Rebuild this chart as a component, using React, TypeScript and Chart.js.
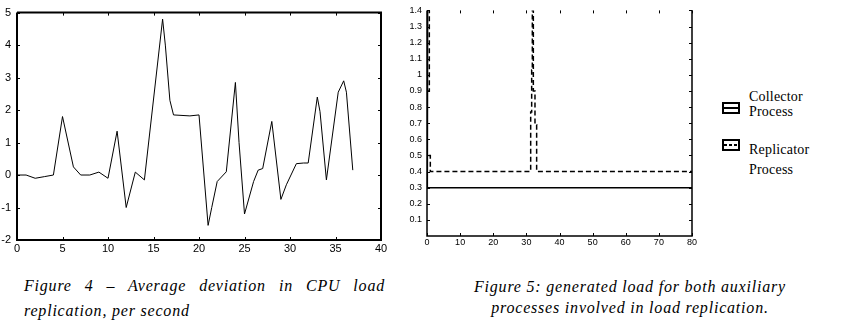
import React, { useEffect, useRef } from 'react';
import { Chart, registerables } from 'chart.js';
Chart.register(...registerables);

// ---------- Figure 4 data ----------
const fig4Seconds = [0, 1, 2, 3, 4, 5, 6.2, 7, 8, 9, 10, 11, 12, 13, 14, 16, 16.3, 16.8, 17.2, 19, 20, 21, 21.4, 22, 23, 24, 24.4, 25, 26, 26.5, 27, 28, 29, 29.6, 30.7, 31.5, 32, 33, 33.3, 34, 35.3, 35.9, 36.2, 36.9];
const fig4Deviation = [0, 0, -0.1, -0.05, 0, 1.8, 0.25, 0, 0, 0.09, -0.1, 1.35, -1.0, 0.09, -0.15, 4.8, 4.0, 2.3, 1.85, 1.82, 1.85, -1.55, -1.0, -0.2, 0.1, 2.85, 1.0, -1.2, -0.2, 0.15, 0.2, 1.65, -0.75, -0.3, 0.35, 0.37, 0.37, 2.4, 1.95, -0.15, 2.55, 2.9, 2.55, 0.15];
const fig4XTicks = [0, 5, 10, 15, 20, 25, 30, 35, 40];
const fig4YTicks = [-2, -1, 0, 1, 2, 3, 4, 5];

// ---------- Figure 5 data ----------
const collectorX = [0.2, 0.2, 0, 80];
const collectorY = [1.5, 1.28, 0.3, 0.3];
const replicatorX = [0, 0.7, 0.7, 0, 0, 1.0, 1.0, 31.3, 31.3, 31.6, 31.6, 31.8, 31.8, 32.1, 32.1, 32.6, 32.6, 33.1, 33.1, 80];
const replicatorY = [0.9, 0.9, 1.5, 1.5, 0.5, 0.5, 0.4, 0.4, 0.77, 0.77, 1.03, 1.03, 1.5, 1.5, 0.9, 0.9, 0.69, 0.69, 0.4, 0.4];
const fig5XTicks = [0, 10, 20, 30, 40, 50, 60, 70, 80];
const fig5YTicks = [0.1, 0.2, 0.3, 0.4, 0.5, 0.6, 0.7, 0.8, 0.9, 1.0, 1.1, 1.2, 1.3, 1.4];

const legendLabels = ['Collector Process', 'Replicator Process'];
const caption4 = ['Figure 4 – Average deviation in CPU load', 'replication, per second'];
const caption5 = ['Figure 5: generated load for both auxiliary', 'processes involved in load replication.'];

const zip = (xs: number[], ys: number[]) => xs.map((x, i) => ({ x, y: ys[i] }));

const framePlugin = (drawTop: boolean, lineW: number, tickLen: number) => ({
  id: 'frame',
  afterDatasetsDraw(chart: any) {
    const { ctx, chartArea: a, scales } = chart;
    const xs = scales.x;
    const ys = scales.y;
    ctx.save();
    ctx.strokeStyle = '#000';
    ctx.lineWidth = 1;
    ctx.beginPath();
    xs.ticks.forEach((t: any) => {
      const px = Math.round(xs.getPixelForValue(t.value)) + 0.5;
      ctx.moveTo(px, a.bottom);
      ctx.lineTo(px, a.bottom - tickLen);
      ctx.moveTo(px, a.top);
      ctx.lineTo(px, a.top + tickLen);
    });
    ys.ticks.forEach((t: any) => {
      const py = Math.round(ys.getPixelForValue(t.value)) + 0.5;
      ctx.moveTo(a.left, py);
      ctx.lineTo(a.left + tickLen, py);
      ctx.moveTo(a.right, py);
      ctx.lineTo(a.right - tickLen, py);
    });
    ctx.stroke();
    ctx.lineWidth = lineW;
    ctx.beginPath();
    ctx.moveTo(a.left, a.top);
    ctx.lineTo(a.left, a.bottom);
    ctx.lineTo(a.right, a.bottom);
    ctx.lineTo(a.right, a.top);
    if (drawTop) ctx.lineTo(a.left, a.top);
    ctx.stroke();
    ctx.restore();
  },
});

const tickFont = (size: number) => ({ family: "'Liberation Sans', Arial, sans-serif", size });

export default function App() {
  const c1 = useRef<HTMLCanvasElement>(null);
  const c2 = useRef<HTMLCanvasElement>(null);

  useEffect(() => {
    const ch1 = new Chart(c1.current as HTMLCanvasElement, {
      type: 'line',
      data: {
        datasets: [
          {
            data: zip(fig4Seconds, fig4Deviation),
            borderColor: '#000',
            borderWidth: 1,
            pointRadius: 0,
            tension: 0,
          },
        ],
      },
      options: {
        animation: false,
        responsive: false,
        events: [],
        layout: { padding: { left: 0, right: 19, top: 9, bottom: 0 } },
        plugins: { legend: { display: false }, tooltip: { enabled: false } },
        scales: {
          x: {
            type: 'linear',
            min: 0,
            max: 40,
            afterBuildTicks: (s: any) => { s.ticks = fig4XTicks.map((v) => ({ value: v })); },
            afterFit: (s: any) => { s.height = 20; },
            grid: { display: false, drawTicks: false },
            border: { display: false },
            ticks: { color: '#000', font: tickFont(11), padding: 2, autoSkip: false, maxRotation: 0, callback: (v: any) => String(v) },
          },
          y: {
            type: 'linear',
            min: -2,
            max: 5,
            afterBuildTicks: (s: any) => { s.ticks = fig4YTicks.map((v) => ({ value: v })); },
            afterFit: (s: any) => { s.width = 17; },
            grid: { display: false, drawTicks: false },
            border: { display: false },
            ticks: { color: '#000', font: tickFont(11), padding: 6, autoSkip: false, callback: (v: any) => String(v) },
          },
        },
      },
      plugins: [framePlugin(true, 2, 3)],
    } as any);

    const ch2 = new Chart(c2.current as HTMLCanvasElement, {
      type: 'line',
      data: {
        datasets: [
          {
            label: legendLabels[0],
            data: zip(collectorX, collectorY),
            borderColor: '#000',
            borderWidth: 1.5,
            pointRadius: 0,
            tension: 0,
          },
          {
            label: legendLabels[1],
            data: zip(replicatorX, replicatorY),
            borderColor: '#000',
            borderWidth: 1.5,
            borderDash: [5, 3],
            pointRadius: 0,
            tension: 0,
          },
        ],
      },
      options: {
        animation: false,
        responsive: false,
        events: [],
        layout: { padding: { left: 0, right: 8, top: 5, bottom: 0 } },
        plugins: { legend: { display: false }, tooltip: { enabled: false } },
        scales: {
          x: {
            type: 'linear',
            min: 0,
            max: 80,
            afterBuildTicks: (s: any) => { s.ticks = fig5XTicks.map((v) => ({ value: v })); },
            afterFit: (s: any) => { s.height = 24; },
            grid: { display: false, drawTicks: false },
            border: { display: false },
            ticks: { color: '#000', font: tickFont(9), padding: 1, autoSkip: false, maxRotation: 0, callback: (v: any) => String(v) },
          },
          y: {
            type: 'linear',
            min: 0,
            max: 1.4,
            afterBuildTicks: (s: any) => { s.ticks = fig5YTicks.map((v) => ({ value: v })); },
            afterFit: (s: any) => { s.width = 27; },
            grid: { display: false, drawTicks: false },
            border: { display: false },
            ticks: { color: '#000', font: tickFont(9), padding: 5, autoSkip: false, callback: (v: any) => String(Number(Number(v).toFixed(1))) },
          },
        },
      },
      plugins: [framePlugin(false, 1.5, 3)],
    } as any);

    return () => {
      ch1.destroy();
      ch2.destroy();
    };
  }, []);

  const serif = "'Liberation Serif', 'Times New Roman', serif";
  const legendText: React.CSSProperties = { position: 'absolute', left: 749, fontFamily: serif, fontSize: 14, lineHeight: '16px', color: '#000', whiteSpace: 'nowrap', letterSpacing: '0.2px' };
  const icon: React.CSSProperties = { position: 'absolute', left: 722, width: 18, height: 12, boxSizing: 'border-box', border: '2px solid #000' };
  const capStyle: React.CSSProperties = { position: 'absolute', fontFamily: serif, fontStyle: 'italic', fontSize: 16, color: '#000', whiteSpace: 'nowrap', letterSpacing: '0.8px' };
  const [c1a, c1b] = legendLabels[0].split(' ');
  const [c2a, c2b] = legendLabels[1].split(' ');

  return (
    <div style={{ position: 'absolute', left: 0, top: 0, width: 863, height: 335, background: '#fff', overflow: 'hidden' }}>
      <div style={{ position: 'absolute', left: 0, top: 0, width: 400, height: 260 }}>
        <canvas ref={c1} width={400} height={260} style={{ display: 'block' }} />
      </div>
      <div style={{ position: 'absolute', left: 400, top: 0, width: 300, height: 260 }}>
        <canvas ref={c2} width={300} height={260} style={{ display: 'block' }} />
      </div>

      {/* legend */}
      <div style={{ ...icon, top: 102 }}>
        <div style={{ position: 'absolute', left: 0, right: 0, top: 3, height: 2, background: '#000' }} />
      </div>
      <div style={{ ...icon, top: 139 }}>
        <div style={{ position: 'absolute', left: 0, right: 0, top: 3, height: 2, background: 'repeating-linear-gradient(to right, #000 0 3px, transparent 3px 5px)' }} />
      </div>
      <div style={{ ...legendText, top: 89 }}>{c1a}</div>
      <div style={{ ...legendText, top: 104 }}>{c1b}</div>
      <div style={{ ...legendText, top: 142 }}>{c2a}</div>
      <div style={{ ...legendText, top: 162 }}>{c2b}</div>

      {/* captions */}
      <div style={{ ...capStyle, left: 24, top: 273, width: 361, textAlign: 'justify', textAlignLast: 'justify', lineHeight: '25px', whiteSpace: 'normal' }}>{caption4[0]}</div>
      <div style={{ ...capStyle, left: 24, top: 298, lineHeight: '25px' }}>{caption4[1]}</div>
      <div style={{ ...capStyle, left: 430, width: 400, textAlign: 'center', top: 276, lineHeight: '21px' }}>{caption5[0]}</div>
      <div style={{ ...capStyle, left: 430, width: 400, textAlign: 'center', top: 297, lineHeight: '21px' }}>{caption5[1]}</div>
    </div>
  );
}
